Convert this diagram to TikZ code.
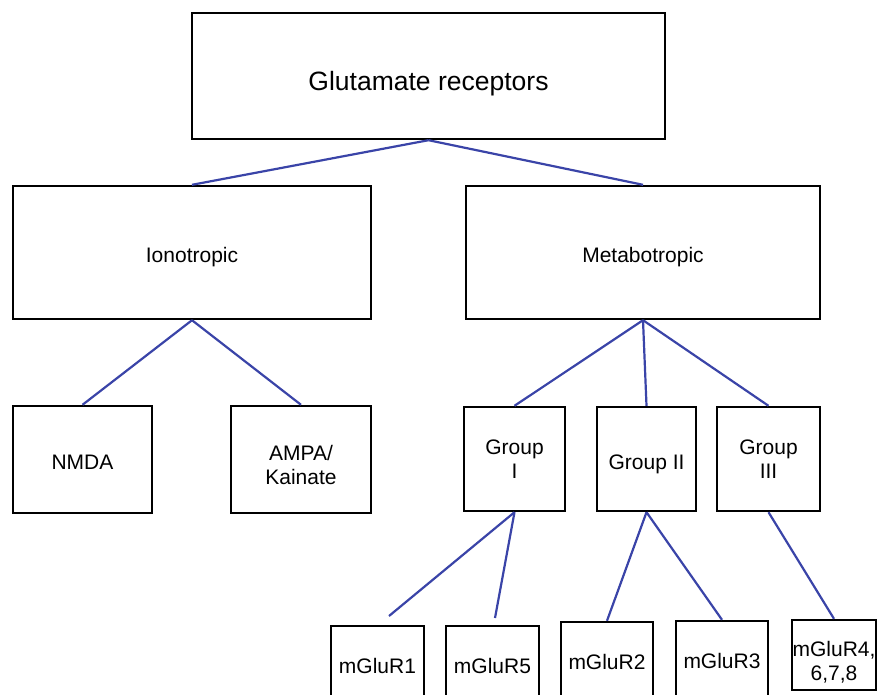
\documentclass[tikz,border=0pt]{standalone}
\usepackage{fontspec}
\setmainfont{Liberation Sans}
\usepackage{tikz}
\definecolor{linkblue}{RGB}{58,68,168}
\tikzset{
  box/.style={draw=black,line width=2.4pt,fill=white,inner sep=0pt,align=center,font=\fontsize{21}{24}\selectfont},
  sunk/.style={text height=20pt,text depth=0pt},
  sunktwo/.style={text height=50pt,text depth=0pt},
  link/.style={draw=linkblue,line width=2.2pt}
}

\begin{document}
\begin{tikzpicture}[x=1pt,y=-1pt]
            \useasboundingbox (0,0) rectangle (880,694);
            \clip (0,0) rectangle (880,694);
            % top level
            \node[box,minimum width=473pt,minimum height=126pt,font=\fontsize{26.5}{30}\selectfont,text height=28pt,text depth=0pt] (glu) at (428.5,76) {Glutamate receptors};
            \node[box,sunk,minimum width=358pt,minimum height=133pt] (iono) at (192,252.5) {Ionotropic};
            \node[box,sunk,minimum width=354pt,minimum height=133pt] (metab) at (643,252.5) {Metabotropic};
            % ionotropic types
            \node[box,sunk,minimum width=139pt,minimum height=107pt] (nmda) at (82.5,459.5) {NMDA};
            \node[box,sunktwo,minimum width=140pt,minimum height=107pt] (ampa) at (301,459.5) {AMPA/\\Kainate};
            % metabotropic groups
            \node[box,minimum width=101pt,minimum height=104pt] (grpI) at (514.5,459) {Group\\I};
            \node[box,sunk,minimum width=99pt,minimum height=104pt] (grpII) at (646.5,459) {Group II};
            \node[box,minimum width=103pt,minimum height=104pt] (grpIII) at (768.5,459) {Group\\III};
            % receptor subtypes
            \node[box,minimum width=93pt,minimum height=80pt] (mglur1) at (377.5,666) {mGluR1};
            \node[box,minimum width=93pt,minimum height=80pt] (mglur5) at (492.5,666) {mGluR5};
            \node[box,minimum width=92pt,minimum height=80pt] (mglur2) at (607,662) {mGluR2};
            \node[box,minimum width=92pt,minimum height=80pt] (mglur3) at (722,661) {mGluR3};
            \node[box,sunktwo,minimum width=84pt,minimum height=70pt] (mglur4) at (834,655) {mGluR4,\\6,7,8};
            \coordinate (end1) at (389,616);
            \coordinate (end5) at (495,618);
            % connectors
            \draw[link] (glu.south) -- (iono.north);
            \draw[link] (glu.south) -- (metab.north);
            \draw[link] (iono.south) -- (nmda.north);
            \draw[link] (iono.south) -- (ampa.north);
            \foreach \g in {grpI,grpII,grpIII} {
                \draw[link] (metab.south) -- (\g.north);
            }
            \draw[link] (grpI.south) -- (end1);
            \draw[link] (grpI.south) -- (end5);
            \draw[link] (grpII.south) -- (mglur2.north);
            \draw[link] (grpII.south) -- (mglur3.north);
            \draw[link] (grpIII.south) -- (mglur4.north);
        \end{tikzpicture}
\end{document}
